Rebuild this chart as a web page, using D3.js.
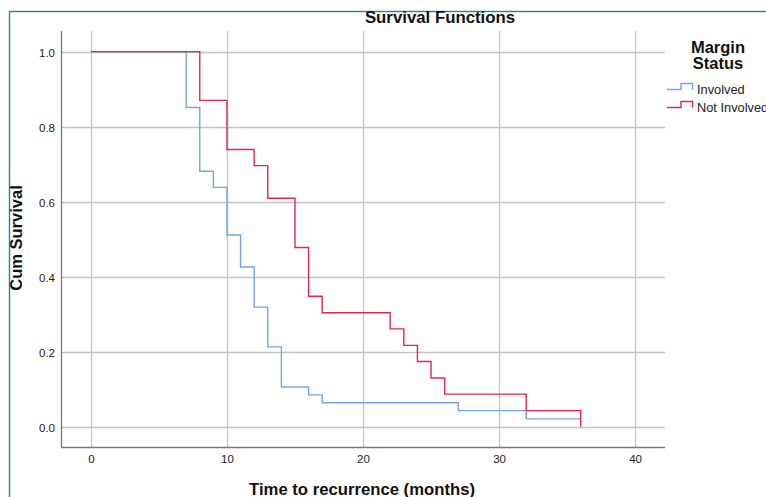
<!DOCTYPE html>
<html><head><meta charset="utf-8">
<script src="https://cdn.jsdelivr.net/npm/d3@7"></script>
<style>
html,body{margin:0;padding:0;background:#fff;}
svg{display:block;font-family:Arial,"Liberation Sans",sans-serif;}
</style></head>
<body>
<svg id="chart" width="766" height="497"></svg>
<script>
// Data (Kaplan-Meier steps): time of event, survival after event
const seriesNames = ["Involved", "Not Involved"];
const involvedTimes = [0, 7, 8, 9, 10, 11, 12, 13, 14, 16, 17, 27, 32, 36];
const involvedSurv  = [1.0, 0.851, 0.681, 0.638, 0.511, 0.426, 0.319, 0.213, 0.106, 0.085, 0.064, 0.043, 0.021, 0.021];
const notInvTimes = [0, 8, 10, 12, 13, 15, 16, 17, 22, 23, 24, 25, 26, 32, 36];
const notInvSurv  = [1.0, 0.870, 0.739, 0.696, 0.609, 0.478, 0.348, 0.304, 0.261, 0.217, 0.174, 0.130, 0.087, 0.043, 0.0];
const xTicks = [0, 10, 20, 30, 40];
const yTicks = [0.0, 0.2, 0.4, 0.6, 0.8, 1.0];
const colors = ["#6fa6ee", "#e0284f"];

const svg = d3.select("#chart");
const L = 61, R = 665, T = 31, B = 447;
const x = d3.scaleLinear().domain([-2.2, 42.2]).range([L, R]);
const y = d3.scaleLinear().domain([-0.054, 1.055]).range([B, T]);

// outer frame
svg.append("rect").attr("x", 9.5).attr("y", 11.5).attr("width", 800).attr("height", 600)
  .attr("fill", "none").attr("stroke", "#1f8a8a").attr("stroke-width", 1.4);

// gridlines
svg.append("g").selectAll("line").data(yTicks).join("line")
  .attr("x1", L).attr("x2", R).attr("y1", d => Math.round(y(d)) + 0.5).attr("y2", d => Math.round(y(d)) + 0.5)
  .attr("stroke", "#c4c4c4").attr("stroke-width", 1.3);
svg.append("g").selectAll("line").data(xTicks).join("line")
  .attr("x1", d => Math.round(x(d)) + 0.5).attr("x2", d => Math.round(x(d)) + 0.5).attr("y1", T).attr("y2", B)
  .attr("stroke", "#c4c4c4").attr("stroke-width", 1.3);

// axes
const yAxis = svg.append("g").attr("transform", `translate(${L},0)`)
  .call(d3.axisLeft(y).tickValues(yTicks).tickFormat(d3.format(".1f")).tickSize(0).tickPadding(6));
const xAxis = svg.append("g").attr("transform", `translate(0,${B})`)
  .call(d3.axisBottom(x).tickValues(xTicks).tickFormat(d3.format("d")).tickSize(0).tickPadding(8));
[yAxis, xAxis].forEach(a => {
  a.select(".domain").attr("stroke", "#777").attr("stroke-width", 1.3);
  a.selectAll("text").attr("font-size", 11.5).attr("fill", "#222").attr("font-family", "Arial, 'Liberation Sans', sans-serif");
});
yAxis.select(".domain").attr("d", `M0.5,${T}V${B + 0.5}`);
xAxis.select(".domain").attr("d", `M${L},0.5H${R}`);
yAxis.selectAll("text").attr("dy", "0.45em");

// step lines
const line = d3.line().x(d => x(d[0])).y(d => y(d[1])).curve(d3.curveStepAfter);
const series = [
  d3.zip(involvedTimes, involvedSurv),
  d3.zip(notInvTimes, notInvSurv)
];
series.forEach((s, i) => {
  svg.append("path").datum(s).attr("d", line)
    .attr("fill", "none").attr("stroke", colors[i]).attr("stroke-width", 1.4);
});

// titles
svg.append("text").attr("x", 440).attr("y", 23).attr("text-anchor", "middle")
  .attr("font-size", 16.8).attr("font-weight", "bold").attr("fill", "#111").text("Survival Functions");
svg.append("text").attr("transform", "translate(22,238) rotate(-90)").attr("text-anchor", "middle")
  .attr("font-size", 16.5).attr("font-weight", "bold").attr("fill", "#111").text("Cum Survival");
svg.append("text").attr("x", 362).attr("y", 495).attr("text-anchor", "middle")
  .attr("font-size", 16.7).attr("font-weight", "bold").attr("fill", "#111").text("Time to recurrence (months)");

// legend
const lg = svg.append("g");
lg.append("text").attr("x", 718).attr("y", 53).attr("text-anchor", "middle")
  .attr("font-size", 16.5).attr("font-weight", "bold").attr("fill", "#111").text("Margin");
lg.append("text").attr("x", 718).attr("y", 68.5).attr("text-anchor", "middle")
  .attr("font-size", 16.5).attr("font-weight", "bold").attr("fill", "#111").text("Status");
seriesNames.forEach((n, i) => {
  const yy = 89.5 + i * 18;
  lg.append("path").attr("d", `M667,${yy}H681V${yy - 6}H692.5V${yy}`)
    .attr("fill", "none").attr("stroke", colors[i]).attr("stroke-width", 1.4);
  lg.append("text").attr("x", 697).attr("y", yy + 4).attr("font-size", 12.8).attr("fill", "#222").text(n);
});
</script>
</body></html>
